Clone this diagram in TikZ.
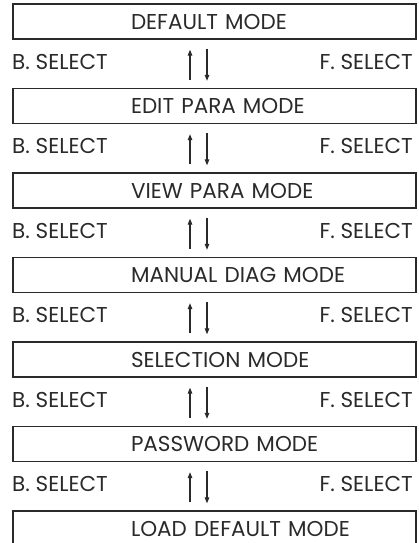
\documentclass[tikz,border=0pt]{standalone}
\usepackage{fontspec}
\setmainfont{Poppins}
\usetikzlibrary{arrows.meta}
\definecolor{ink}{HTML}{2A2A2A}
\tikzset{
  box/.style={draw=ink, line width=1.3pt, minimum width=403pt, minimum height=35pt,
    inner sep=0pt, text width=403pt, align=left, text=ink, font=\fontsize{21.5}{21.5}\selectfont},
  sel/.style={text=ink, inner sep=0pt, font=\fontsize{21.5}{21.5}\selectfont},
  arr/.style={draw=ink, line width=1.2pt, -{Triangle[length=6pt,width=4.5pt]}}
}
\begin{document}
\begin{tikzpicture}[x=1pt,y=-1pt]
\useasboundingbox (0,0) rectangle (419,543);
\clip (0,0) rectangle (419,543);
\coordinate (ux) at (190,0);
\coordinate (dx) at (207,0);
\foreach \i/\t in {0/DEFAULT MODE,1/EDIT PARA MODE,2/VIEW PARA MODE,3/MANUAL DIAG MODE,4/SELECTION MODE,5/PASSWORD MODE,6/LOAD DEFAULT MODE}{
  \node[box] (b\i) at (214.5,{21.5+84.5*\i}) {\hspace*{118pt}\t};
}
\foreach \i [evaluate=\i as \j using int(\i+1)] in {0,...,5}{
  \node[sel, anchor=west] (l\i) at (12,{61.5+84.5*\i}) {B. SELECT};
  \node[sel, anchor=east] (r\i) at (413,{61.5+84.5*\i}) {F. SELECT};
  \draw[arr, shorten <=8pt, shorten >=10pt] (b\j.north -| ux) -- (b\i.south -| ux);
  \draw[arr, shorten <=9pt, shorten >=7pt] (b\i.south -| dx) -- (b\j.north -| dx);
}
\end{tikzpicture}
\end{document}
